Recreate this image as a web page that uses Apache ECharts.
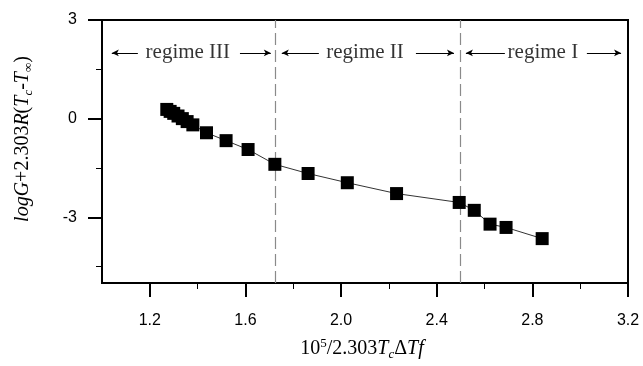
<!DOCTYPE html>
<html>
<head>
<meta charset="utf-8">
<script src="https://cdn.jsdelivr.net/npm/echarts@6/dist/echarts.min.js"></script>
<style>
  html, body { margin: 0; padding: 0; background: #fff; }
  #chart { width: 643px; height: 366px; }
</style>
</head>
<body>
<div id="chart"></div>
<script>
// Measured points: abscissa 10^5/2.303·Tc·ΔT·f, ordinate log G + 2.303R(Tc − T∞)
const xValues = [1.271, 1.285, 1.300, 1.318, 1.336, 1.356, 1.380, 1.437,
                 1.519, 1.611, 1.723, 1.862, 2.026, 2.232, 2.494, 2.557,
                 2.623, 2.690, 2.841];
const yValues = [0.28, 0.22, 0.16, 0.08, 0.00, -0.09, -0.19, -0.43,
                 -0.67, -0.94, -1.39, -1.67, -1.95, -2.28, -2.55, -2.79,
                 -3.21, -3.31, -3.65];

// Axis ranges and ticks
const xRange = [1.0, 3.2];
const yRange = [-5, 3];
const xMajorTicks = [1.2, 1.6, 2.0, 2.4, 2.8, 3.2];
const xMinorTicks = [1.4, 1.8, 2.2, 2.6, 3.0];
const yMajorTicks = [-3, 0, 3];
const yMinorTicks = [-4.5, -1.5, 1.5];

// Regime boundaries and annotations
const regimeBounds = [1.725, 2.5];
const regimeNames = ['regime III', 'regime II', 'regime I'];
const regimeCenters = [1.359, 2.10, 2.844];
const regimeLevel = 2.0;
// [from, to, head side]
const regimeArrows = [
  [1.041, 1.150, 'left'], [1.577, 1.706, 'right'],
  [1.752, 1.907, 'left'], [2.313, 2.472, 'right'],
  [2.522, 2.685, 'left'], [3.028, 3.171, 'right']
];

const serif = '"Liberation Serif", "Times New Roman", serif';
const sans = '"Liberation Sans", Arial, sans-serif';

const points = xValues.map((x, i) => [x, yValues[i]]);

const dashed = { color: '#8a8a8a', width: 1.2, type: [12, 5] };
const boundaryLines = regimeBounds.map(v => ([
  { coord: [v, yRange[0]], symbol: 'none', lineStyle: dashed },
  { coord: [v, yRange[1]], symbol: 'none', lineStyle: dashed }
]));
const arrowLines = regimeArrows.map(([a, b, side]) => ([
  { coord: [a, regimeLevel], symbol: side === 'left' ? 'arrow' : 'none' },
  { coord: [b, regimeLevel], symbol: side === 'right' ? 'arrow' : 'none' }
]));

const sub = { fontFamily: serif, fontSize: 13, fontStyle: 'italic', lineHeight: 13, padding: [11, 0, 0, 0], color: '#000' };
const rich = {
  i:  { fontFamily: serif, fontSize: 20, fontStyle: 'italic', lineHeight: 20, color: '#000' },
  n:  { fontFamily: serif, fontSize: 20, lineHeight: 20, color: '#000' },
  s:  sub,
  su: Object.assign({}, sub, { fontStyle: 'normal' }),
  sup:{ fontFamily: serif, fontSize: 13, lineHeight: 13, padding: [0, 0, 11, 0], color: '#000' }
};

const chart = echarts.init(document.getElementById('chart'), null, { renderer: 'canvas' });
chart.setOption({
  animation: false,
  backgroundColor: '#fff',
  grid: { left: 102, right: 15, top: 20, bottom: 83, show: true, borderColor: '#000', borderWidth: 2 },
  xAxis: [
    {
      type: 'value', min: xRange[0], max: xRange[1],
      axisLine: { show: true, onZero: false, lineStyle: { color: '#000', width: 2 } },
      axisTick: { show: true, inside: false, length: 14, customValues: xMajorTicks, lineStyle: { color: '#000', width: 2 } },
      axisLabel: { customValues: xMajorTicks, margin: 30, color: '#000', fontFamily: sans, fontSize: 16,
                   formatter: v => v.toFixed(1) },
      splitLine: { show: false }
    },
    {
      type: 'value', min: xRange[0], max: xRange[1], position: 'bottom',
      axisLine: { show: false, onZero: false },
      axisTick: { show: true, inside: false, length: 6, customValues: xMinorTicks, lineStyle: { color: '#000', width: 1 } },
      axisLabel: { show: false },
      splitLine: { show: false }
    }
  ],
  yAxis: [
    {
      type: 'value', min: yRange[0], max: yRange[1],
      axisLine: { show: true, onZero: false, lineStyle: { color: '#000', width: 2 } },
      axisTick: { show: true, inside: false, length: 14, customValues: yMajorTicks, lineStyle: { color: '#000', width: 2 } },
      axisLabel: { customValues: yMajorTicks, margin: 25, color: '#000', fontFamily: sans, fontSize: 16,
                   formatter: v => String(v) },
      splitLine: { show: false }
    },
    {
      type: 'value', min: yRange[0], max: yRange[1], position: 'left',
      axisLine: { show: false, onZero: false },
      axisTick: { show: true, inside: false, length: 6, customValues: yMinorTicks, lineStyle: { color: '#000', width: 1 } },
      axisLabel: { show: false },
      splitLine: { show: false }
    }
  ],
  graphic: [
    {
      type: 'text', x: 362, y: 349,
      style: {
        text: '{n|10}{sup|5}{n|/2.303}{i|T}{s|c}{n|Δ}{i|Tf}',
        rich: rich, align: 'center', verticalAlign: 'middle'
      }
    },
    {
      type: 'text', x: 23, y: 139, rotation: Math.PI / 2,
      style: {
        text: '{i|logG}{n|+2.303}{i|R}{n|(}{i|T}{s|c}{n|-}{i|T}{su|∞}{n|)}',
        rich: rich, align: 'center', verticalAlign: 'middle'
      }
    }
  ],
  series: [
    {
      name: 'data',
      type: 'line',
      xAxisIndex: 0, yAxisIndex: 0,
      data: points,
      symbol: 'rect',
      symbolSize: 13,
      itemStyle: { color: '#000' },
      lineStyle: { color: '#333', width: 1 },
      z: 5,
      markLine: {
        silent: true,
        animation: false,
        label: { show: false },
        symbolSize: [5, 7],
        lineStyle: { color: '#000', width: 1, type: 'solid' },
        data: boundaryLines.concat(arrowLines)
      }
    },
    {
      name: 'regimes',
      type: 'scatter',
      xAxisIndex: 0, yAxisIndex: 0,
      symbolSize: 0,
      silent: true,
      data: regimeNames.map((name, i) => [regimeCenters[i], regimeLevel, name]),
      label: {
        show: true, position: 'inside', formatter: p => p.data[2],
        color: '#000', fontFamily: serif, fontSize: 21
      }
    }
  ]
});
</script>
</body>
</html>
